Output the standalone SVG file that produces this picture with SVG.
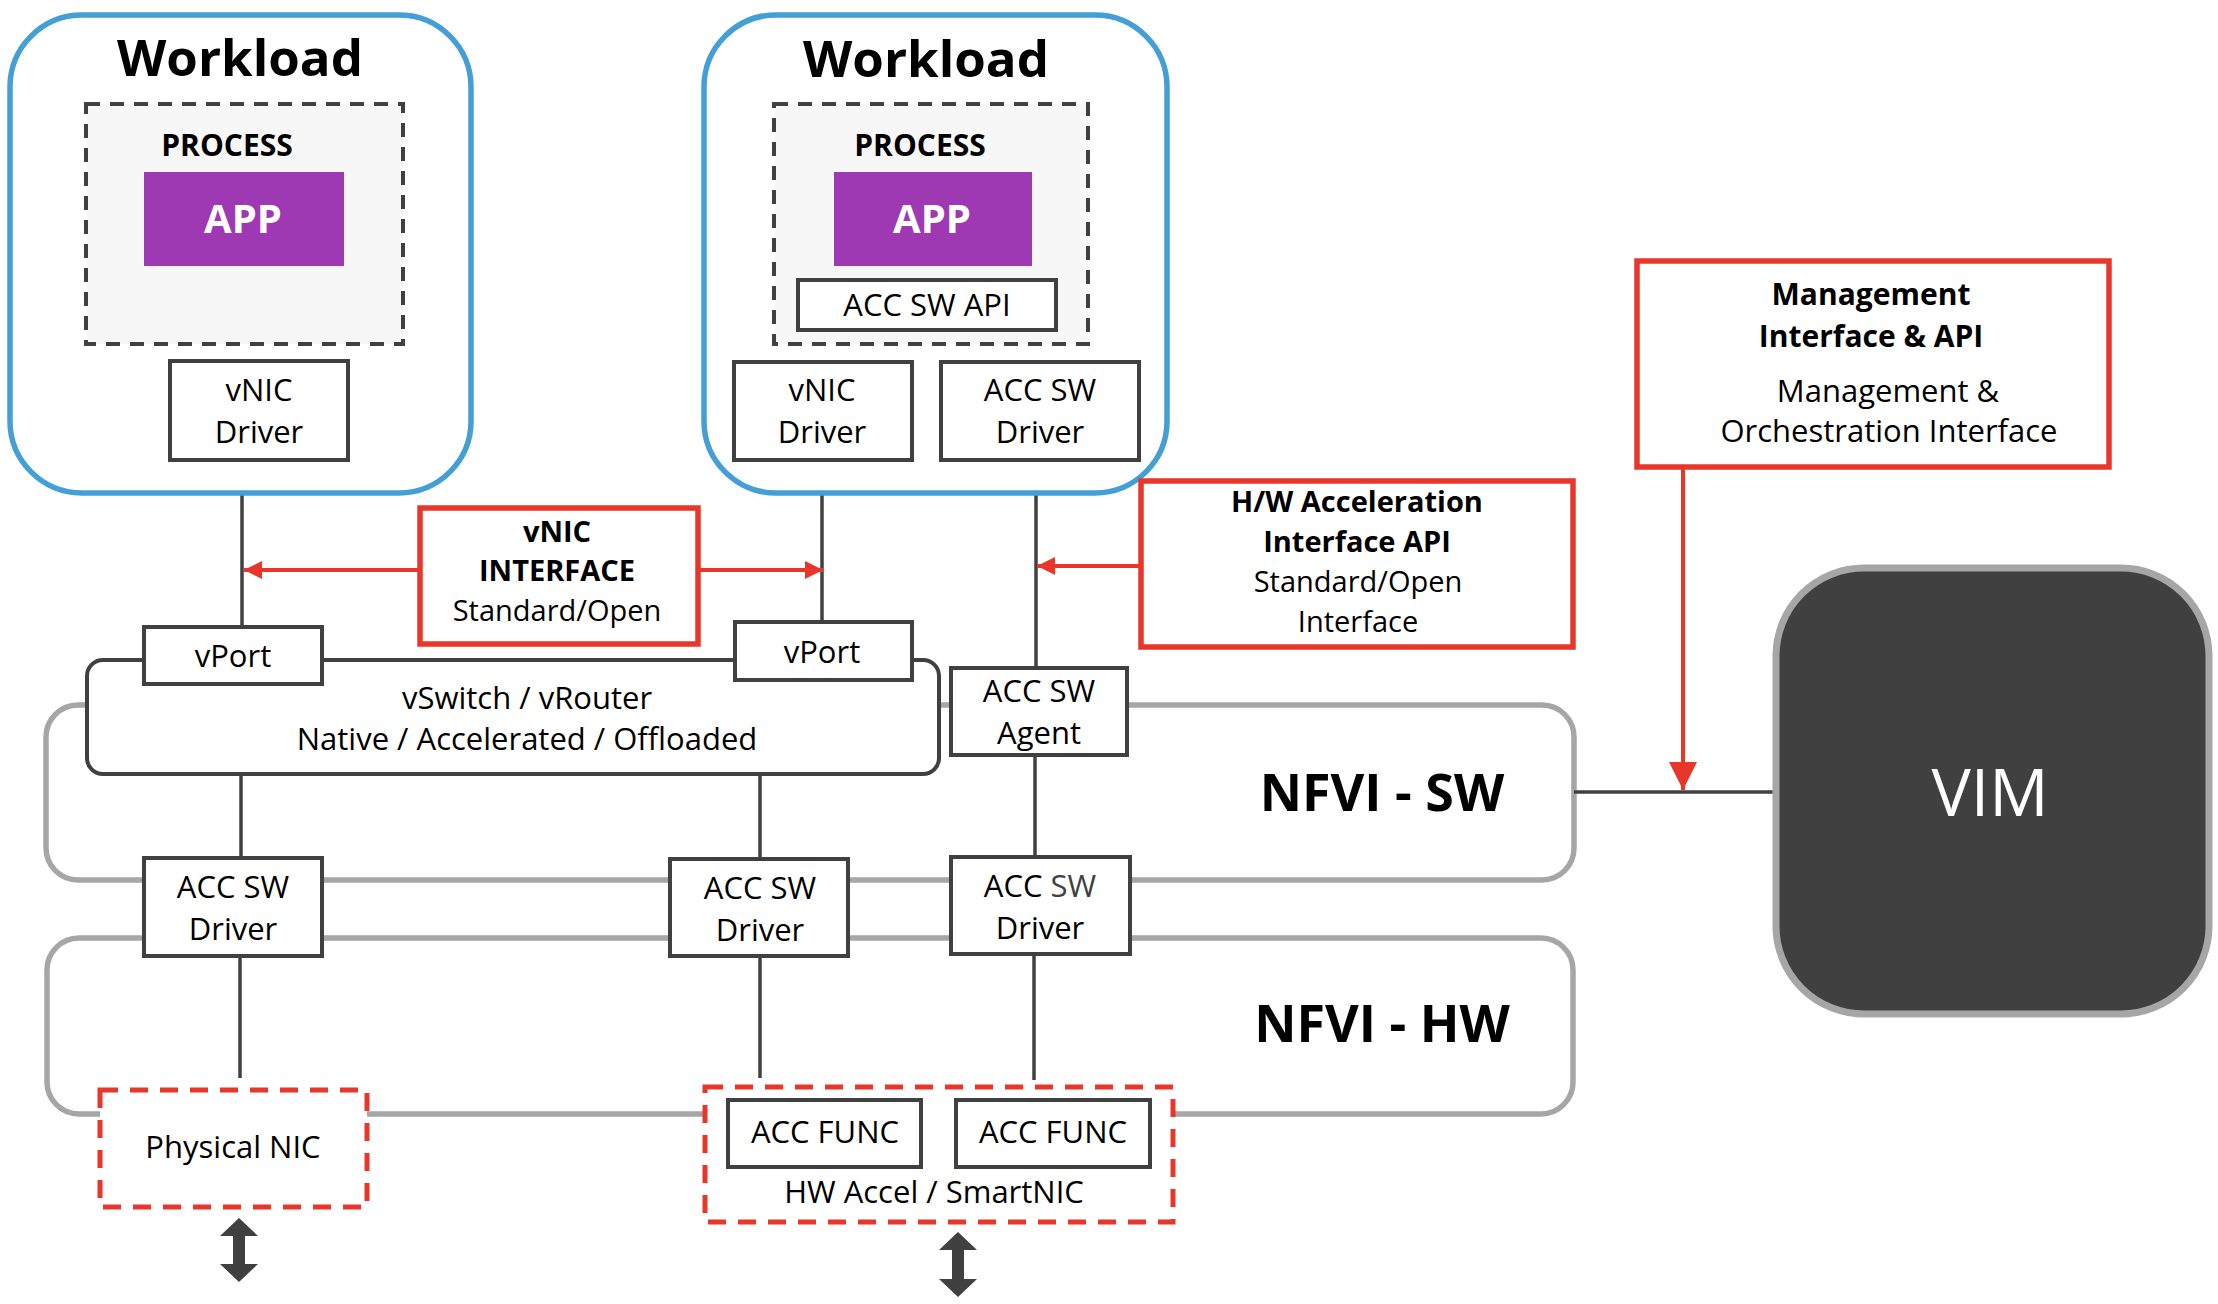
<svg xmlns="http://www.w3.org/2000/svg" width="2218" height="1304" viewBox="0 0 2218 1304">
<style>
text{font-family:"Open Sans","Liberation Sans",Arial,sans-serif;fill:#000;text-anchor:middle}
.b{font-weight:700}
.r{font-size:31px}
.r29{font-size:29px}
.lb{font-size:30px;font-weight:700}
.lb29{font-size:29px;font-weight:700}
.wl{font-size:51px;font-weight:700}
.nf{font-size:52px;font-weight:700}
.box{fill:#fff;stroke:#404040;stroke-width:4}
.wk{fill:#fff;stroke:#449FD6;stroke-width:5.5}
.proc{fill:#F7F7F7;stroke:#404040;stroke-width:4;stroke-dasharray:14 10}
.app{fill:#9E38B3}
.apptx{font-size:40px;font-weight:700;fill:#fff}
.red{fill:#fff;stroke:#E8372A;stroke-width:5.5}
.reddash{fill:#fff;stroke:#E8372A;stroke-width:5;stroke-dasharray:18 12}
.gray{fill:none;stroke:#A6A6A6;stroke-width:5.5}
.ln{stroke:#404040;stroke-width:3.5;fill:none}
.rl{stroke:#E8372A;stroke-width:4;fill:none}
</style>
<defs>
<marker id="ra" markerUnits="userSpaceOnUse" markerWidth="20" markerHeight="20" refX="18" refY="9" orient="auto">
<path d="M0,0 L18,9 L0,18 Z" fill="#E8372A"/>
</marker>
<marker id="rb" markerUnits="userSpaceOnUse" markerWidth="30" markerHeight="30" refX="28" refY="14" orient="auto">
<path d="M0,0 L28,14 L0,28 Z" fill="#E8372A"/>
</marker>
</defs>

<!-- NFVI layers -->
<g id="nfvi-sw">
<rect class="gray" x="46" y="705" width="1528" height="175" rx="32"/>
<text class="nf" x="1382" y="811">NFVI - SW</text>
</g>
<g id="nfvi-hw">
<rect class="gray" x="47" y="938" width="1526" height="176" rx="32"/>
<text class="nf" x="1382" y="1042">NFVI - HW</text>
</g>

<g id="connectors">
<line class="ln" x1="242" y1="494" x2="242" y2="627"/>
<line class="ln" x1="822" y1="460" x2="822" y2="622"/>
<line class="ln" x1="1036" y1="495" x2="1036" y2="668"/>
<line class="ln" x1="241" y1="774" x2="241" y2="857"/>
<line class="ln" x1="760" y1="774" x2="760" y2="859"/>
<line class="ln" x1="1035" y1="755" x2="1035" y2="857"/>
<line class="ln" x1="240" y1="956" x2="240" y2="1078"/>
<line class="ln" x1="760" y1="956" x2="760" y2="1078"/>
<line class="ln" x1="1034" y1="953" x2="1034" y2="1080"/>
<line class="ln" x1="1574" y1="792" x2="1774" y2="792"/>
<line class="rl" x1="420" y1="570" x2="244" y2="570" marker-end="url(#ra)"/>
<line class="rl" x1="698" y1="570" x2="823" y2="570" marker-end="url(#ra)"/>
<line class="rl" x1="1140" y1="566" x2="1037" y2="566" marker-end="url(#ra)"/>
<line class="rl" x1="1683" y1="468" x2="1683" y2="790" marker-end="url(#rb)"/>
<path d="M239,1218 L258,1236 L245,1236 L245,1264 L258,1264 L239,1282 L220,1264 L233,1264 L233,1236 L220,1236 Z" fill="#404040"/>
<path d="M958,1232 L977,1250 L964,1250 L964,1279 L977,1279 L958,1297 L939,1279 L952,1279 L952,1250 L939,1250 Z" fill="#404040"/>
</g>

<g id="workload1">
<rect class="wk" x="10" y="15" width="461" height="478" rx="72"/>
<text class="wl" x="240" y="76">Workload</text>
</g>
<g id="process1">
<rect class="proc" x="86" y="104" width="317" height="240"/>
<text class="lb" x="227" y="156">PROCESS</text>
</g>
<g id="app1">
<rect class="app" x="144" y="172" width="200" height="94"/>
<text class="apptx" x="243" y="233">APP</text>
</g>
<g id="vnic-driver1">
<rect class="box" x="170" y="361" width="178" height="99"/>
<text class="r" x="259" y="401">vNIC</text>
<text class="r" x="259" y="443">Driver</text>
</g>

<g id="workload2">
<rect class="wk" x="704" y="15" width="463" height="478" rx="72"/>
<text class="wl" x="926" y="77">Workload</text>
</g>
<g id="process2">
<rect class="proc" x="774" y="104" width="314" height="240"/>
<text class="lb" x="920" y="156">PROCESS</text>
</g>
<g id="app2">
<rect class="app" x="834" y="172" width="198" height="94"/>
<text class="apptx" x="932" y="233">APP</text>
</g>
<g id="acc-sw-api">
<rect class="box" x="798" y="280" width="258" height="50"/>
<text class="r" x="927" y="316">ACC SW API</text>
</g>
<g id="vnic-driver2">
<rect class="box" x="734" y="362" width="178" height="98"/>
<text class="r" x="822" y="401">vNIC</text>
<text class="r" x="822" y="443">Driver</text>
</g>
<g id="acc-sw-driver-top">
<rect class="box" x="941" y="362" width="198" height="98"/>
<text class="r" x="1040" y="401">ACC SW</text>
<text class="r" x="1040" y="443">Driver</text>
</g>

<g id="vnic-interface">
<rect class="red" x="420" y="508" width="278" height="136"/>
<text class="lb29" x="557" y="542">vNIC</text>
<text class="lb29" x="557" y="581">INTERFACE</text>
<text class="r29" x="557" y="621">Standard/Open</text>
</g>

<g id="vswitch">
<rect class="box" x="87" y="660" width="852" height="114" rx="16"/>
<text class="r" x="527" y="709">vSwitch / vRouter</text>
<text class="r" x="527" y="750">Native / Accelerated / Offloaded</text>
</g>
<g id="vport1">
<rect class="box" x="144" y="627" width="178" height="57"/>
<text class="r" x="233" y="667">vPort</text>
</g>
<g id="vport2">
<rect class="box" x="735" y="622" width="177" height="58"/>
<text class="r" x="822" y="663">vPort</text>
</g>
<g id="acc-sw-agent">
<rect class="box" x="951" y="668" width="176" height="87"/>
<text class="r" x="1039" y="702">ACC SW</text>
<text class="r" x="1039" y="744">Agent</text>
</g>

<g id="acc-sw-driver-a">
<rect class="box" x="144" y="858" width="178" height="98"/>
<text class="r" x="233" y="898">ACC SW</text>
<text class="r" x="233" y="940">Driver</text>
</g>
<g id="acc-sw-driver-b">
<rect class="box" x="670" y="859" width="178" height="97"/>
<text class="r" x="760" y="899">ACC SW</text>
<text class="r" x="760" y="941">Driver</text>
</g>
<g id="acc-sw-driver-c">
<rect class="box" x="951" y="857" width="179" height="97"/>
<text class="r" x="1040" y="897">ACC <tspan fill="#404040">SW</tspan></text>
<text class="r" x="1040" y="939">Driver</text>
</g>

<g id="physical-nic">
<rect class="reddash" x="100" y="1090" width="267" height="117"/>
<text class="r" x="233" y="1158">Physical NIC</text>
</g>
<g id="hw-accel">
<rect class="reddash" x="705" y="1087" width="468" height="135"/>
<text class="r" x="934" y="1203">HW Accel / SmartNIC</text>
</g>
<g id="acc-func1">
<rect class="box" x="728" y="1100" width="193" height="67"/>
<text class="r" x="825" y="1143">ACC FUNC</text>
</g>
<g id="acc-func2">
<rect class="box" x="956" y="1100" width="194" height="67"/>
<text class="r" x="1053" y="1143">ACC FUNC</text>
</g>

<g id="hw-accel-api">
<rect class="red" x="1141" y="481" width="432" height="166"/>
<text class="lb29" x="1357" y="512">H/W Acceleration</text>
<text class="lb29" x="1357" y="552">Interface API</text>
<text class="r29" x="1358" y="592">Standard/Open</text>
<text class="r29" x="1358" y="632">Interface</text>
</g>

<g id="management">
<rect class="red" x="1637" y="261" width="472" height="206"/>
<text class="lb" x="1871" y="305">Management</text>
<text class="lb" x="1871" y="347">Interface &amp; API</text>
<text class="r" x="1888" y="402">Management &amp;</text>
<text class="r" x="1889" y="442">Orchestration Interface</text>
</g>

<g id="vim">
<rect x="1776" y="568" width="433" height="446" rx="88" fill="#404040" stroke="#A6A6A6" stroke-width="7"/>
<text x="1990" y="816" style="font-size:66px;fill:#fff">VIM</text>
</g>
</svg>
